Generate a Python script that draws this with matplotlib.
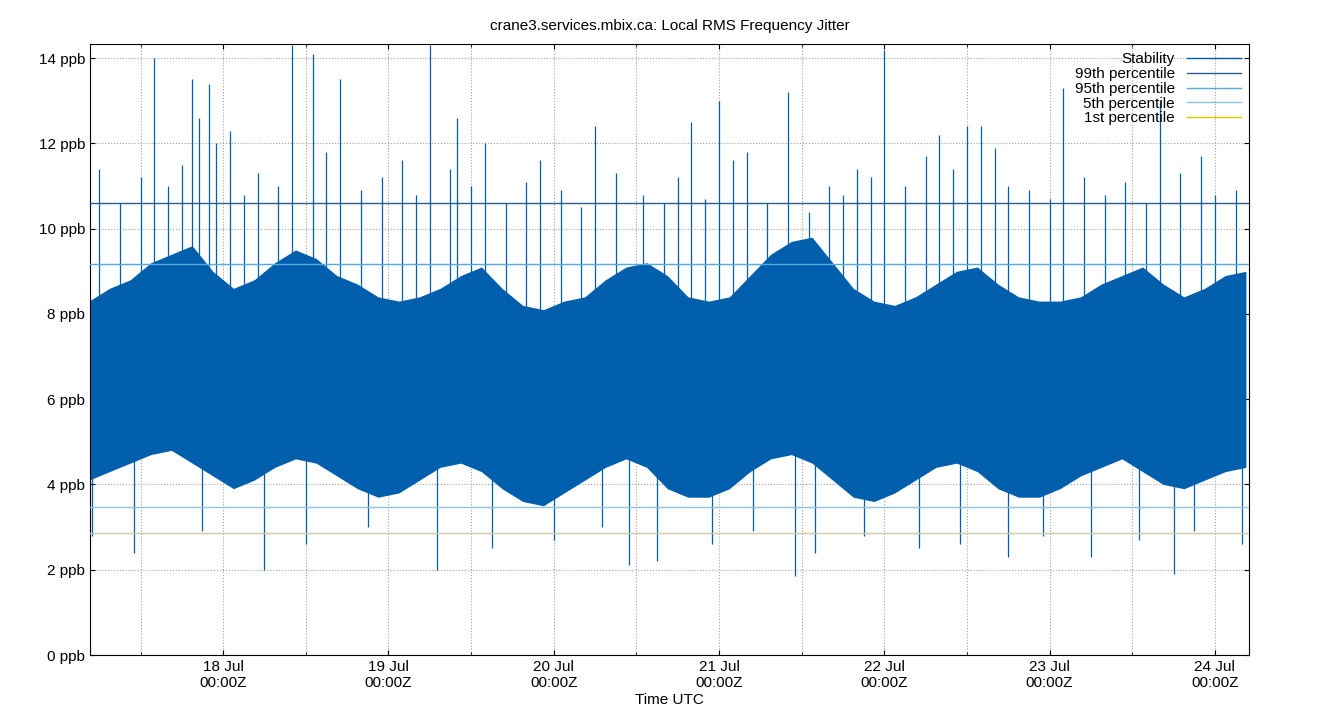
import matplotlib
matplotlib.use("Agg")
import matplotlib.pyplot as plt
import matplotlib.dates as mdates
import numpy as np
from datetime import datetime, timedelta

plt.rcParams['font.family'] = 'Liberation Sans'
plt.rcParams['font.size'] = 11

# Dense core of the stability trace, 3-hour bins starting 17 Jul 03:00 UTC
bin_start = datetime(2023, 7, 17, 3, 0)
core_hi = [8.3, 8.6, 8.8, 9.2, 9.4, 9.6, 9.0, 8.6,
           8.8, 9.2, 9.5, 9.3, 8.9, 8.7, 8.4, 8.3,
           8.4, 8.6, 8.9, 9.1, 8.6, 8.2, 8.1, 8.3,
           8.4, 8.8, 9.1, 9.2, 8.9, 8.4, 8.3, 8.4,
           8.9, 9.4, 9.7, 9.8, 9.2, 8.6, 8.3, 8.2,
           8.4, 8.7, 9.0, 9.1, 8.7, 8.4, 8.3, 8.3,
           8.4, 8.7, 8.9, 9.1, 8.7, 8.4, 8.6, 8.9, 9.0]
core_lo = [4.1, 4.3, 4.5, 4.7, 4.8, 4.5, 4.2, 3.9,
           4.1, 4.4, 4.6, 4.5, 4.2, 3.9, 3.7, 3.8,
           4.1, 4.4, 4.5, 4.3, 3.9, 3.6, 3.5, 3.8,
           4.1, 4.4, 4.6, 4.4, 3.9, 3.7, 3.7, 3.9,
           4.3, 4.6, 4.7, 4.5, 4.1, 3.7, 3.6, 3.8,
           4.1, 4.4, 4.5, 4.3, 3.9, 3.7, 3.7, 3.9,
           4.2, 4.4, 4.6, 4.3, 4.0, 3.9, 4.1, 4.3, 4.4]

# Individual excursions (hours after 17 Jul 00:00, value in ppb)
spike_hours = [14, 19.5, 20.5, 22, 25, 34, 37, 41, 54, 58, 62, 70, 78,
               92, 96, 100, 106, 116, 120, 132, 134, 138, 146, 160, 166,
               176, 184, 188,
               6, 9, 12, 16, 18, 23, 27, 29, 32, 39, 44, 47, 50, 52, 57,
               60, 65, 68, 73, 76, 81, 85, 88, 90, 94, 98, 103, 109, 112,
               114, 118, 123, 126, 128, 130, 136, 141, 144, 149, 152, 155,
               158, 163, 168, 171, 174, 179, 181, 186, 190, 193,
               30, 55, 83, 107, 138, 162, 184,
               5, 11, 21, 36, 45, 63, 72, 79, 87, 95, 101, 110, 117, 125,
               131, 143, 150, 157, 165, 172, 178, 187, 191]
spike_vals = [14.0, 13.5, 12.6, 13.4, 12.3, 14.3, 14.1, 13.5, 14.3, 12.6,
              12.0, 11.6, 12.4, 12.5, 13.0, 11.8, 13.2, 11.4, 14.2, 12.4,
              12.4, 11.0, 13.3, 13.0, 11.7, 12.7, 12.3, 12.7,
              11.4, 10.6, 11.2, 11.0, 11.5, 12.0, 10.8, 11.3, 11.0, 11.8,
              10.9, 11.2, 11.6, 10.8, 11.4, 11.0, 10.6, 11.1, 10.9, 10.5,
              11.3, 10.8, 10.6, 11.2, 10.7, 11.6, 10.6, 10.4, 11.0, 10.8,
              11.2, 11.0, 11.7, 12.2, 11.4, 11.9, 10.9, 10.7, 11.2, 10.8,
              11.1, 10.6, 11.3, 10.8, 10.9, 11.4, 11.0, 10.5, 10.9, 10.9,
              11.0,
              2.0, 2.0, 2.1, 1.85, 2.3, 1.9, 2.3,
              2.8, 2.4, 2.9, 2.6, 3.0, 2.5, 2.7, 3.0, 2.2, 2.6, 2.9, 2.4,
              2.8, 2.5, 2.6, 2.8, 2.3, 2.7, 2.9, 2.6, 2.8, 2.3, 2.9]

p99, p95, p5, p1 = 10.6, 9.17, 3.47, 2.86

t0 = datetime(2023, 7, 17, 4, 40)
t1 = datetime(2023, 7, 24, 4, 57)
blue = '#005fad'

fig = plt.figure(figsize=(13.4, 7.2), dpi=100)
ax = fig.add_axes([90/1340, 65/720, 1159/1340, 611/720])

centers = [bin_start + timedelta(hours=3*i + 1.5) for i in range(len(core_hi))]
ax.fill_between(centers, core_lo, core_hi, color=blue, lw=0, zorder=2)
base = datetime(2023, 7, 17)
sx = [base + timedelta(hours=h) for h in spike_hours]
lo_end = [min(v, 5) for v in spike_vals]
hi_end = [max(v, 8) for v in spike_vals]
ax.vlines(sx, lo_end, hi_end, color=blue, lw=0.9, zorder=2)

ax.plot([], [], color=blue, lw=1, label='Stability')
ax.axhline(p99, color='#2a6090', lw=1, label='99th percentile', zorder=3)
ax.axhline(p95, color='#56a8e0', lw=1, label='95th percentile', zorder=3)
ax.axhline(p5, color='#8fc4e8', lw=1, label='5th percentile', zorder=3)
ax.axhline(p1, color='#d0c8a8', lw=1, zorder=3)
ax.plot([], [], color='#e8c800', lw=1, label='1st percentile')

ax.set_xlim(t0, t1)
ax.set_ylim(0, 14.33)
ax.set_yticks(np.arange(0, 15, 2))
ax.set_yticklabels([f'{v} ppb' for v in range(0, 15, 2)])
ax.xaxis.set_major_locator(mdates.DayLocator())
ax.xaxis.set_major_formatter(mdates.DateFormatter('%d %b\n%H:%MZ'))
ax.xaxis.set_minor_locator(mdates.HourLocator(byhour=[12]))
ax.grid(True, which='both', color='#a0a0a0', ls=':', lw=0.8)
ax.tick_params(which='both', direction='in', top=True, right=True)
ax.set_xlabel('Time UTC', labelpad=2)
ax.set_title('crane3.services.mbix.ca: Local RMS Frequency Jitter', fontsize=11, pad=10)

leg = ax.legend(loc='upper right', frameon=False, markerfirst=False,
                handlelength=3.5, labelspacing=0.05, borderaxespad=0.15,
                fontsize=11)
for t in leg.get_texts():
    t.set_ha('right')

fig.savefig('out.png', dpi=100)
